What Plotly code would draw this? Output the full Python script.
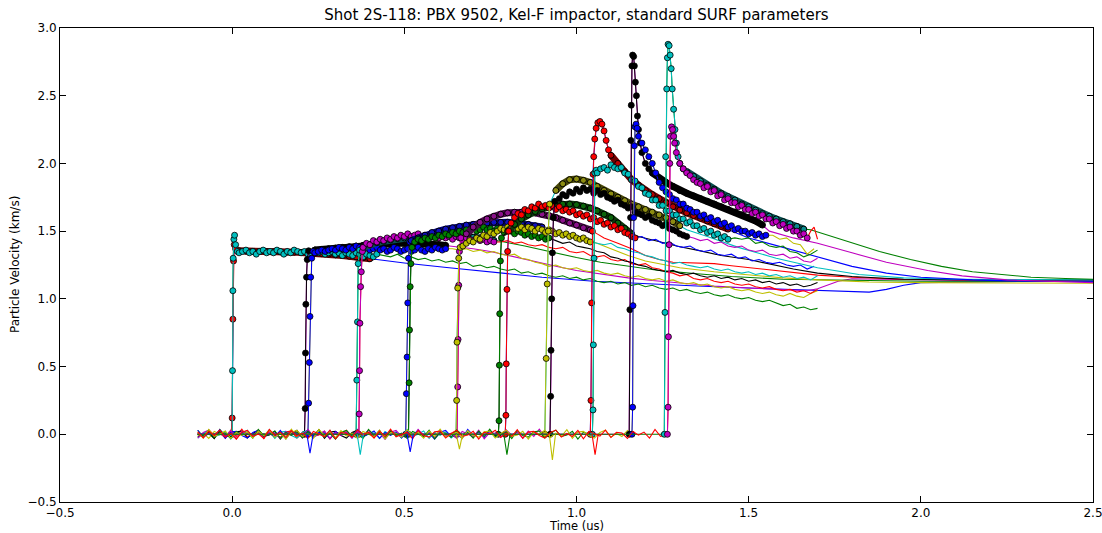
import plotly.graph_objects as go

# ---------------- data ----------------
# shared baseline noise (km/s) read from the pre-arrival band
noise = [0.018,-0.027,0.022,-0.009,0.031,-0.021,0.006,-0.036,0.015,0.028,-0.016,0.003,-0.030,0.036,-0.008,
         0.016,-0.024,0.027,-0.013,0.009,-0.031,0.021,0.002,-0.018,0.030,-0.034,0.013,0.008,-0.022,0.033,
         -0.006,0.015,-0.028,0.024,-0.015,0.037,-0.019,0.000,0.016,-0.031,0.028,-0.009,-0.021,0.018,0.024,
         -0.028,0.006,0.031,-0.016,-0.006,0.022,-0.036,0.015,0.002,0.030,-0.024,0.009,-0.015,0.034,-0.030,
         0.016,0.021,-0.009,-0.028,0.013,0.031,-0.021,0.006,-0.016,0.028,-0.034,0.022,0.002,-0.013,0.030,
         -0.024,0.015,0.009,-0.031,0.021,-0.006,0.016,-0.028,0.036,-0.015,0.000,0.024,-0.030,0.013,-0.008]

# ---- gauge 1 ----
sim1_rise = [[-0.003,0.0],[0.0,0.12],[0.002,0.85],[0.004,1.28],[0.006,1.40],[0.010,1.37]]
sim1_win_t0 = 0.02
sim1_win = [1.355,1.352,1.35,1.35,1.349,1.348,1.347,1.346,1.345,1.343,1.34,1.337,1.334,1.33,1.325,1.32,1.315,1.31,1.303,1.296]
sim1_tail = [[0.5,1.265],[0.63,1.23],[0.78,1.19],[0.9,1.16],[1.05,1.13],[1.2,1.11],[1.35,1.095],[1.5,1.08],[1.65,1.065],
             [1.75,1.055],[1.85,1.05],[1.9,1.07],[1.95,1.10],[2.0,1.12],[2.1,1.125],[2.3,1.13],[2.5,1.13]]
exp1_rise = [[0.0,0.0],[0.001,0.47],[0.002,1.06],[0.003,1.30],[0.005,1.44],[0.007,1.47],[0.010,1.40],[0.015,1.35]]
exp1_win_t0 = 0.02
exp1_win = [1.34,1.35,1.36,1.34,1.35,1.33,1.35,1.36,1.34,1.35,1.34,1.36,1.35,1.33,1.35,1.34,1.36,1.35,1.34,1.35,
            1.33,1.34,1.36,1.34,1.35,1.33,1.34,1.35,1.33,1.34,1.32,1.34,1.33,1.32,1.34,1.33,1.31,1.33,1.32,1.31,1.33]
exp1_tail = [1.32,1.31,1.33,1.30,1.31,1.29,1.30,1.28,1.29,1.27,1.28,1.26,1.27,1.24,1.25,1.23,1.24,1.22,1.21,1.22,
             1.19,1.20,1.18,1.19,1.17,1.16,1.17,1.15,1.16,1.14,1.15,1.13,1.12,1.13,1.11,1.12,1.10,1.11,1.09,1.10,
             1.08,1.07,1.08,1.06,1.07,1.05,1.04,1.05,1.03,1.02,1.03,1.01,1.00,1.01,0.99,0.98,0.99,0.97,0.95,0.96,
             0.93,0.94,0.92,0.93]

# ---- gauge 2 ----
sim2_rise = [[0.210,0.0],[0.212,0.19],[0.213,0.60],[0.214,0.96],[0.216,1.16],[0.218,1.29],[0.222,1.355]]
sim2_win_t0 = 0.24
sim2_win = [1.36,1.365,1.37,1.375,1.38,1.385,1.39,1.395,1.40,1.40,1.405,1.405,1.41,1.41,1.41,1.41,1.41,1.405,1.40,1.395]
sim2_tail = [[0.65,1.385],[0.70,1.37],[0.75,1.35],[0.80,1.32],[0.84,1.30],[0.90,1.265],[0.95,1.235],[1.00,1.21],
             [1.08,1.18],[1.15,1.155],[1.22,1.135],[1.30,1.115],[1.40,1.095],[1.50,1.08],[1.60,1.068],[1.67,1.06],
             [1.70,1.075],[1.73,1.10],[1.76,1.13],[1.80,1.148],[1.90,1.143],[2.10,1.135],[2.30,1.13],[2.50,1.13]]
exp2_rise = [[0.220,0.0],[0.222,0.23],[0.224,0.53],[0.226,0.87],[0.228,1.16],[0.231,1.30],[0.235,1.35]]
exp2_win_t0 = 0.24
exp2_win = [1.34,1.35,1.36,1.35,1.36,1.37,1.36,1.38,1.37,1.36,1.38,1.37,1.39,1.38,1.37,1.38,1.36,1.37,1.38,1.36,
            1.37,1.35,1.36,1.38,1.37,1.35,1.36,1.37,1.35,1.36,1.38,1.36,1.35,1.37,1.36,1.38,1.37,1.36,1.37]
exp2_tail = [1.37,1.36,1.37,1.35,1.36,1.34,1.35,1.33,1.32,1.33,1.30,1.29,1.27,1.26,1.24,1.25,1.23,1.22,1.23,1.21,
             1.20,1.21,1.19,1.18,1.19,1.17,1.16,1.17,1.15,1.14,1.15,1.13,1.14,1.12,1.11,1.12,1.10,1.11,1.09,1.08,
             1.09,1.07,1.06,1.07,1.05,1.04,1.05,1.03,1.02,1.04,1.02,1.01,1.04,1.06]

# ---- gauge 3 ----
sim3_rise = [[0.360,0.0],[0.362,0.40],[0.364,0.83],[0.366,1.26],[0.370,1.36]]
sim3_win_t0 = 0.38
sim3_win = [1.38,1.40,1.415,1.425,1.435,1.445,1.45,1.455,1.46,1.465,1.47,1.47,1.47,1.468,1.465,1.46,1.455,1.45,1.44,1.432]
sim3_tail = [[0.78,1.425],[0.85,1.39],[0.92,1.35],[1.00,1.305],[1.07,1.27],[1.15,1.24],[1.24,1.21],[1.35,1.185],
             [1.45,1.165],[1.60,1.145],[1.80,1.135],[2.00,1.13],[2.50,1.13]]
exp3_rise = [[0.368,0.0],[0.369,0.15],[0.370,0.47],[0.371,0.82],[0.373,1.09],[0.375,1.20],[0.378,1.35]]
exp3_win_t0 = 0.38
exp3_win = [1.38,1.41,1.40,1.43,1.42,1.44,1.43,1.45,1.44,1.46,1.45,1.47,1.46,1.48,1.46,1.47,1.48,1.46,1.47,1.45,
            1.47,1.46,1.45,1.47,1.45,1.46,1.44,1.46,1.45,1.43,1.45,1.44,1.43,1.45,1.43,1.44,1.42,1.43,1.42]
exp3_tail = [1.42,1.43,1.41,1.42,1.40,1.39,1.40,1.38,1.37,1.38,1.35,1.34,1.35,1.32,1.31,1.32,1.29,1.28,1.29,1.26,
             1.25,1.26,1.23,1.22,1.20,1.19,1.17,1.18,1.15,1.14,1.15,1.13,1.12,1.13,1.11,1.10,1.11,1.09,1.08,1.09,
             1.07,1.06,1.07,1.05,1.06,1.04,1.07]

# ---- gauge 4 ----
sim4_rise = [[0.504,0.0],[0.506,0.30],[0.508,0.57],[0.510,0.97],[0.512,1.30],[0.516,1.42]]
sim4_win_t0 = 0.52
sim4_win = [1.43,1.45,1.47,1.49,1.50,1.515,1.525,1.535,1.545,1.55,1.555,1.56,1.565,1.565,1.565,1.56,1.555,1.55,1.54,1.53]
sim4_tail = [[0.92,1.515],[0.96,1.49],[1.00,1.46],[1.05,1.42],[1.10,1.37],[1.15,1.32],[1.20,1.28],[1.30,1.23],
             [1.40,1.20],[1.50,1.175],[1.60,1.155],[1.70,1.14],[1.85,1.125],[2.00,1.12],[2.50,1.115]]
exp4_rise = [[0.512,0.0],[0.514,0.38],[0.515,0.77],[0.517,1.09],[0.519,1.26],[0.522,1.38]]
exp4_win_t0 = 0.53
exp4_win = [1.42,1.44,1.43,1.45,1.44,1.46,1.45,1.47,1.46,1.48,1.47,1.49,1.48,1.50,1.49,1.51,1.50,1.52,1.50,1.51,
            1.53,1.51,1.52,1.50,1.52,1.51,1.49,1.51,1.50,1.48,1.50,1.49,1.47,1.48,1.46,1.47,1.45,1.46,1.44,1.45]
exp4_tail = [1.43,1.41,1.42,1.39,1.38,1.37,1.35,1.34,1.31,1.30,1.28,1.27,1.25,1.24,1.22,1.21,1.20,1.21,1.19,1.18,
             1.19,1.17,1.16,1.17,1.15,1.16,1.14,1.15,1.13,1.14,1.12,1.13,1.11,1.12,1.10,1.11,1.09,1.10,1.12]

# ---- gauge 5 ----
sim5_rise = [[0.653,0.0],[0.655,0.35],[0.656,0.70],[0.658,1.10],[0.660,1.35],[0.664,1.45]]
sim5_win_t0 = 0.68
sim5_win = [1.48,1.53,1.565,1.59,1.61,1.625,1.635,1.64,1.64,1.64,1.635,1.625,1.615,1.60,1.58,1.56,1.545,1.525,1.51]
sim5_tail = [[1.06,1.48],[1.08,1.45],[1.12,1.41],[1.16,1.37],[1.20,1.32],[1.24,1.29],[1.28,1.27],[1.32,1.265],
             [1.36,1.265],[1.40,1.26],[1.45,1.245],[1.50,1.23],[1.60,1.20],[1.70,1.175],[1.80,1.16],[1.95,1.145],
             [2.20,1.14],[2.50,1.14]]
exp5_rise = [[0.650,0.0],[0.652,0.25],[0.653,0.68],[0.655,1.08],[0.658,1.30],[0.662,1.38]]
exp5_win_t0 = 0.67
exp5_win = [1.39,1.41,1.43,1.42,1.45,1.44,1.47,1.46,1.49,1.48,1.50,1.52,1.51,1.53,1.52,1.54,1.52,1.53,1.51,1.53,
            1.52,1.50,1.52,1.51,1.49,1.51,1.50,1.48,1.49,1.47,1.48,1.46,1.47,1.45,1.44,1.45,1.43,1.42]
exp5_tail = [1.41,1.40,1.41,1.38,1.37,1.35,1.34,1.32,1.31,1.29,1.28,1.26,1.27,1.25,1.24,1.23,1.24,1.22,1.21,1.22,
             1.20,1.19,1.20,1.18,1.19,1.17,1.18,1.16,1.17,1.15,1.16,1.14,1.17]

# ---- gauge 6 ----
sim6_rise = [[0.773,0.0],[0.775,0.10],[0.776,0.51],[0.777,0.89],[0.779,1.28],[0.782,1.45]]
sim6_win_t0 = 0.80
sim6_win = [1.50,1.55,1.59,1.62,1.645,1.665,1.68,1.69,1.70,1.70,1.695,1.685,1.67,1.65,1.625,1.60,1.56,1.52,1.48]
sim6_tail = [[1.18,1.46],[1.24,1.42],[1.30,1.385],[1.35,1.36],[1.42,1.32],[1.50,1.29],[1.57,1.25],[1.63,1.22],
             [1.70,1.19],[1.80,1.165],[1.95,1.145],[2.20,1.14],[2.50,1.14]]
exp6_rise = [[0.793,0.0],[0.795,0.14],[0.796,0.52],[0.798,1.07],[0.800,1.35],[0.803,1.50]]
exp6_win_t0 = 0.81
exp6_win = [1.56,1.60,1.63,1.62,1.66,1.65,1.68,1.67,1.70,1.68,1.69,1.67,1.69,1.66,1.68,1.65,1.66,1.64,1.65,1.62,
            1.63,1.61,1.62,1.59,1.60,1.57,1.58,1.55,1.56,1.53,1.54,1.51,1.52,1.49,1.48,1.46,1.45]
exp6_tail = [1.46,1.43,1.44,1.41,1.42,1.39,1.38,1.39,1.36,1.35,1.36,1.33,1.32,1.33,1.30,1.31,1.28,1.29,1.27,1.26,
             1.27,1.25,1.24,1.25,1.22,1.24]

# ---- gauge 7 ----
sim7_rise = [[0.908,0.0],[0.912,0.56],[0.915,1.11],[0.918,1.50],[0.922,1.70]]
sim7_win_t0 = 0.94
sim7_win = [1.80,1.85,1.88,1.885,1.875,1.86,1.83,1.80,1.775,1.75,1.725,1.70,1.68,1.66,1.64,1.62,1.60,1.57,1.54]
sim7_tail = [[1.32,1.51],[1.38,1.46],[1.47,1.38],[1.58,1.30],[1.70,1.23],[1.82,1.18],[1.95,1.155],[2.10,1.145],[2.50,1.14]]
exp7_rise = [[0.923,0.0],[0.925,0.28],[0.926,0.62],[0.928,1.00],[0.930,1.34],[0.933,1.60],[0.937,1.72]]
exp7_win_t0 = 0.95
exp7_win = [1.74,1.77,1.76,1.79,1.78,1.81,1.79,1.82,1.80,1.81,1.78,1.80,1.77,1.78,1.75,1.74,1.72,1.73,1.70,1.69,
            1.67,1.68,1.64,1.63,1.62,1.60,1.61,1.58,1.57,1.56,1.54,1.55,1.52,1.51,1.50,1.48,1.47,1.46]
exp7_tail = [1.45,1.43,1.44,1.41,1.42,1.39,1.38,1.39,1.36,1.35,1.36,1.33,1.32,1.33,1.30,1.31,1.28,1.27,1.30]

# ---- gauge 8 ----
sim8_rise = [[1.040,0.0],[1.042,0.25],[1.044,0.97],[1.046,1.50],[1.048,1.92],[1.050,2.05],[1.053,2.18],[1.057,2.26],
             [1.062,2.30],[1.068,2.31],[1.074,2.29],[1.080,2.24],[1.086,2.17],[1.093,2.10]]
sim8_win_t0 = 1.10
sim8_win = [2.06,2.00,1.94,1.88,1.84,1.80,1.77,1.74,1.71,1.68,1.655,1.635,1.615,1.595,1.575,1.555,1.535,1.515]
sim8_tail = [[1.46,1.49],[1.50,1.45],[1.60,1.38],[1.70,1.31],[1.80,1.24],[1.90,1.19],[2.00,1.16],[2.15,1.14],[2.30,1.13],[2.50,1.13]]
exp8_rise = [[1.046,0.0],[1.048,0.18],[1.049,0.66],[1.051,1.30],[1.053,1.93],[1.057,1.95]]
exp8_win_t0 = 1.06
exp8_win = [1.93,1.96,1.97,1.95,1.99,1.97,1.96,1.97,1.93,1.92,1.88,1.87,1.83,1.82,1.78,1.77,1.73,1.73,1.69,1.69,
            1.65,1.65,1.62,1.62,1.59,1.59,1.56,1.57,1.54,1.54,1.51,1.52,1.49,1.50,1.47,1.48,1.45,1.46,1.44]
exp8_tail = [1.45,1.44,1.45,1.41,1.42,1.39,1.38,1.39,1.35,1.34,1.31,1.33,1.36]

# ---- gauge 9 ----
sim9_rise = [[1.153,0.0],[1.155,0.92],[1.157,1.60],[1.158,2.17],[1.159,2.43],[1.161,2.72],[1.163,2.80],[1.166,2.79],
             [1.168,2.72],[1.171,2.60],[1.174,2.50],[1.177,2.35],[1.180,2.25],[1.185,2.15],[1.190,2.08],[1.200,2.00],[1.210,1.96]]
sim9_win_t0 = 1.22
sim9_win = [1.93,1.89,1.86,1.83,1.80,1.78,1.76,1.74,1.72,1.70,1.68,1.66,1.64,1.62,1.60,1.575,1.545]
sim9_tail = [[1.56,1.50],[1.63,1.45],[1.70,1.41],[1.80,1.34],[1.90,1.27],[2.02,1.21],[2.12,1.17],[2.25,1.14],[2.40,1.125],[2.50,1.12]]
exp9_rise = [[1.161,0.0],[1.163,0.20],[1.164,0.95],[1.166,1.60],[1.168,2.13],[1.170,2.27],[1.173,2.29],[1.176,2.26],[1.180,2.20]]
exp9_win_t0 = 1.19
exp9_win = [2.15,2.10,2.05,2.00,1.93,1.86,1.82,1.79,1.77,1.74,1.73,1.70,1.70,1.67,1.66,1.64,1.64,1.61,1.62,1.59,
            1.60,1.57,1.58,1.55,1.56,1.53,1.54,1.51,1.52,1.50,1.50,1.48,1.49,1.47,1.48,1.46,1.47]
exp9_tail = [1.47,1.44,1.45,1.41,1.40,1.33,1.37]

# ---- gauge 10 ----
sim10_rise = [[1.255,0.0],[1.257,0.90],[1.259,2.05],[1.262,2.55],[1.264,2.78],[1.266,2.88],[1.269,2.87],[1.272,2.80],
              [1.275,2.70],[1.278,2.55],[1.282,2.40],[1.286,2.25],[1.290,2.15],[1.295,2.05],[1.300,2.00],[1.310,1.96]]
sim10_win_t0 = 1.32
sim10_win = [1.94,1.905,1.87,1.84,1.81,1.78,1.755,1.73,1.70,1.68,1.655,1.63,1.61,1.59,1.57,1.555,1.535,1.515]
sim10_tail = [[1.68,1.51],[1.73,1.47],[1.80,1.41],[1.88,1.35],[1.97,1.29],[2.06,1.24],[2.15,1.20],[2.23,1.18],
              [2.32,1.16],[2.42,1.15],[2.50,1.145]]
exp10_rise = [[1.264,0.0],[1.266,0.20],[1.267,0.72],[1.269,1.40],[1.271,2.00],[1.273,2.20],[1.276,2.27],[1.279,2.25],
              [1.282,2.20],[1.285,2.15]]
exp10_win_t0 = 1.29
exp10_win = [2.08,2.00,1.96,1.93,1.91,1.88,1.86,1.85,1.82,1.83,1.79,1.80,1.76,1.77,1.73,1.74,1.71,1.71,1.68,1.69,
             1.66,1.66,1.63,1.64,1.61,1.62,1.59,1.59,1.56,1.57,1.54,1.55,1.52,1.53,1.50,1.50,1.47,1.48,1.45]
exp10_tail = [1.50,1.53,1.44]

exp_tail_dt = [0.02,0.02,0.02,0.02,0.02,0.02,0.02,0.02,0.02,0.01]

# small negative excursions on the baseline (time, depth)
dip_t = [0.226,0.372,0.517,0.660,0.798,0.930,1.054]
dip_v = [-0.14,-0.15,-0.13,-0.11,-0.15,-0.19,-0.15]
dip_c = ['#0000ff','#00bfbf','#0000ff','#bfbf00','#008000','#bfbf00','#ff0000']

# ---------------- styling ----------------
CYCLE = ['#0000ff', '#008000', '#ff0000', '#00bfbf', '#bf00bf', '#bfbf00', '#000000']
DARK = {'#0000ff': '#00007a', '#008000': '#0c3a0c', '#ff0000': '#700000', '#00bfbf': '#0b5050',
        '#bf00bf': '#4a0a4a', '#bfbf00': '#484808', '#000000': '#000000'}
MID = {'#0000ff': '#1010c0', '#008000': '#0a640a', '#ff0000': '#b80000', '#00bfbf': '#0a8c8c',
       '#bf00bf': '#8a108a', '#bfbf00': '#8c8c10', '#000000': '#000000'}

G = globals()
fig = go.Figure()


def grid(t0, dt, vals):
    return [round(t0 + dt * i, 4) for i in range(len(vals))], list(vals)


ci = 0
for k in range(1, 11):
    c_sim, c_exp, c_S, c_J = [CYCLE[(ci + j) % 7] for j in range(4)]
    ci += 4
    s_rise = G[f'sim{k}_rise']
    s_wt, s_wv = grid(G[f'sim{k}_win_t0'], 0.02, G[f'sim{k}_win'])
    s_tail = G[f'sim{k}_tail']
    e_rise = G[f'exp{k}_rise']
    e_wt, e_wv = grid(G[f'exp{k}_win_t0'], 0.01, G[f'exp{k}_win'])
    dt = exp_tail_dt[k - 1]
    e_tt, e_tv = grid(e_wt[-1] + dt, dt, G[f'exp{k}_tail'])

    # simulation, full record
    sx = [-0.1] + [p[0] for p in s_rise] + s_wt + [p[0] for p in s_tail]
    sy = [0.0] + [p[1] for p in s_rise] + s_wv + [p[1] for p in s_tail]
    fig.add_trace(go.Scatter(x=sx, y=sy, mode='lines', line=dict(color=c_sim, width=1.1), hoverinfo='skip'))

    # experiment, full record with noisy baseline
    bx, by = [], []
    i = 0
    while -0.1 + 0.016 * i < e_rise[0][0] - 0.002:
        bx.append(round(-0.1 + 0.016 * i, 4))
        by.append(noise[(i + 9 * k) % len(noise)])
        i += 1
    ex = bx + [p[0] for p in e_rise] + e_wt + e_tt
    ey = by + [p[1] for p in e_rise] + e_wv + e_tv
    fig.add_trace(go.Scatter(x=ex, y=ey, mode='lines', line=dict(color=c_exp, width=1.1), hoverinfo='skip'))

    # simulation window with markers (dense -> dark band)
    fig.add_trace(go.Scatter(x=s_wt, y=s_wv, mode='lines', line=dict(color=DARK[c_S], width=7), hoverinfo='skip'))
    fig.add_trace(go.Scatter(x=[p[0] for p in s_rise], y=[p[1] for p in s_rise],
                             mode='lines+markers', line=dict(color=c_S, width=1),
                             marker=dict(size=6, color=c_S, line=dict(color='black', width=0.8)), hoverinfo='skip'))
    fig.add_trace(go.Scatter(x=s_wt, y=s_wv, mode='markers',
                             marker=dict(size=6, color=MID[c_S], line=dict(color='black', width=1)), hoverinfo='skip'))
    # experiment window with markers
    fig.add_trace(go.Scatter(x=[p[0] for p in e_rise] + e_wt, y=[p[1] for p in e_rise] + e_wv,
                             mode='lines+markers', line=dict(color=c_J, width=1),
                             marker=dict(size=6, color=c_J, line=dict(color='black', width=0.8)), hoverinfo='skip'))

for t, v, c in zip(dip_t, dip_v, dip_c):
    fig.add_trace(go.Scatter(x=[t - 0.009, t, t + 0.009], y=[0.0, v, 0.0], mode='lines',
                             line=dict(color=c, width=1.1), hoverinfo='skip'))

axis_common = dict(showgrid=False, zeroline=False, showline=True, linecolor='black', linewidth=1,
                   mirror='ticks', ticks='inside', ticklen=6, tickwidth=1, tickcolor='black',
                   ticklabeloverflow='allow',
                   tickfont=dict(family='DejaVu Sans', size=12, color='black'), tickformat='.1f')

fig.update_layout(
    width=1102, height=533,
    margin=dict(l=60, r=9, t=28, b=31),
    plot_bgcolor='white', paper_bgcolor='white', showlegend=False,
    font=dict(family='DejaVu Sans', color='black'),
    title=dict(text='Shot 2S-118: PBX 9502, Kel-F impactor, standard SURF parameters',
               x=0.5, xref='paper', y=1 - 15 / 533, yref='container', yanchor='middle',
               font=dict(family='DejaVu Sans', size=15, color='black')),
    xaxis=dict(range=[-0.5, 2.5], tickvals=[-0.5, 0.0, 0.5, 1.0, 1.5, 2.0, 2.5], automargin=False, **axis_common),
    yaxis=dict(range=[-0.5, 3.0], tickvals=[-0.5, 0.0, 0.5, 1.0, 1.5, 2.0, 2.5, 3.0], automargin=False, **axis_common),
    annotations=[
        dict(text='Time (us)', x=0.5, xref='paper', y=-24 / 474, yref='paper', yanchor='middle',
             showarrow=False, font=dict(family='DejaVu Sans', size=11.5, color='black')),
        dict(text='Particle Velocity (km/s)', x=-45 / 1033, xref='paper', y=0.5, yref='paper',
             textangle=-90, xanchor='center', showarrow=False,
             font=dict(family='DejaVu Sans', size=12, color='black')),
    ],
)

fig.write_html('out.html', config={'displayModeBar': False},
               post_script="document.body.style.margin='0';document.body.style.overflow='hidden';")
